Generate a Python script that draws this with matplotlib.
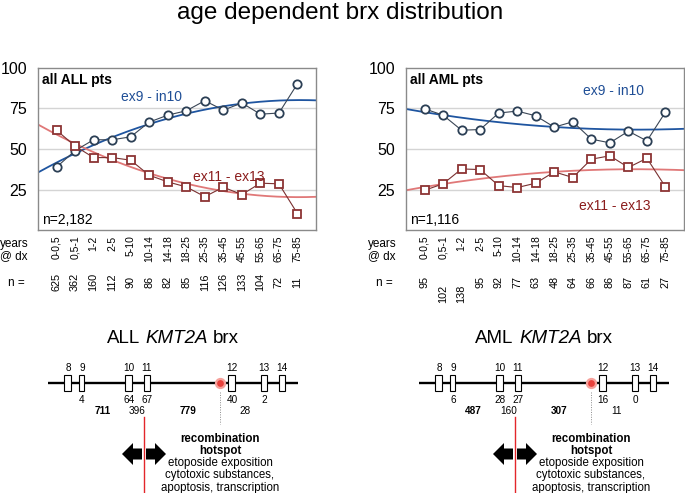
import numpy as np
import matplotlib
matplotlib.use('Agg')
import matplotlib.pyplot as plt
import matplotlib.patches as mpatches
from matplotlib import transforms

plt.rcParams['font.family'] = ['Liberation Sans', 'DejaVu Sans']

# age groups at diagnosis
age_groups = ['0-0,5', '0,5-1', '1-2', '2-5', '5-10', '10-14', '14-18',
              '18-25', '25-35', '35-45', '45-55', '55-65', '65-75', '75-85']

# % of breakpoints per age group
all_ex9_in10 = [38.8, 49.0, 55.7, 55.7, 57.5, 66.6, 70.9, 73.6, 79.8, 74.0, 78.4, 71.5, 72.2, 90.3]
all_ex11_ex13 = [61.6, 51.8, 44.7, 44.7, 43.1, 33.8, 29.7, 26.6, 20.6, 26.4, 21.9, 28.9, 28.5, 10.1]
all_n = [625, 362, 160, 112, 90, 86, 82, 85, 116, 126, 133, 104, 72, 11]

aml_ex9_in10 = [74.8, 70.9, 61.6, 62.0, 72.2, 73.4, 70.5, 63.5, 66.8, 56.1, 53.8, 61.0, 55.0, 72.8]
aml_ex11_ex13 = [24.5, 28.5, 37.7, 37.3, 27.4, 26.2, 28.9, 35.9, 32.4, 43.7, 45.8, 38.6, 44.3, 26.6]
aml_n = [95, 102, 138, 95, 92, 77, 63, 48, 64, 66, 86, 87, 61, 27]

# KMT2A breakpoint cluster region
exon_names = ['8', '9', '10', '11', '12', '13', '14']
all_exon_brx = ['', '4', '64', '67', '40', '2', '']
aml_exon_brx = ['', '6', '28', '27', '16', '0', '']
all_intron_brx = ['711', '396', '779', '28']
aml_intron_brx = ['487', '160', '307', '11']

BLUE_TXT = '#1f4e96'
RED_TXT = '#8b1c1c'

fig = plt.figure(figsize=(6.85, 4.93), dpi=100)

# overlay in pixel units for free text and the gene maps
ov = fig.add_axes([0, 0, 1, 1])
ov.set_xlim(0, 685)
ov.set_ylim(493, 0)
ov.axis('off')

ov.text(340.5, 19, 'age dependent brx distribution', ha='center', va='baseline', fontsize=17.5)


def panel(left_px, ex9, ex11, n, label, n_label, ex9_pos, ex11_pos, n_shift):
    ax = fig.add_axes([left_px / 685, (493 - 230) / 493, 278 / 685, 162 / 493])
    x = np.arange(len(age_groups))
    ax.set_xlim(-1, len(age_groups))
    ax.set_ylim(0, 100)
    ax.set_yticks([25, 50, 75, 100])
    ax.set_yticklabels(['25', '50', '75', '100'], fontsize=11.5)
    ax.set_xticks(x)
    ax.set_xticklabels(age_groups, rotation=90, fontsize=7.5)
    ax.tick_params(length=0)
    ax.tick_params(axis='y', pad=8)
    ax.tick_params(axis='x', pad=4)
    for s in ax.spines.values():
        s.set_color('#8a8a8a')
        s.set_linewidth(1.0)
    for g in [25, 50, 75]:
        ax.axhline(g, color='#d4d4d4', lw=1.0, zorder=0)

    # polynomial trendlines (order 2)
    xs = np.linspace(-1, len(age_groups), 200)
    p9 = np.polyfit(x, ex9, 2)
    p11 = np.polyfit(x, ex11, 2)
    ax.plot(xs, np.polyval(p9, xs), color='#1f55a0', lw=1.3, zorder=2)
    ax.plot(xs, np.polyval(p11, xs), color='#e07878', lw=1.3, zorder=2)

    ax.plot(x, ex9, '-o', color='#3a4656', lw=0.8, ms=6, mfc='white',
            mec='#2b3f55', mew=1.3, zorder=3)
    ax.plot(x, ex11, '-s', color='#7a3030', lw=0.8, ms=5.6, mfc='white',
            mec='#8c3434', mew=1.3, zorder=3)

    ax.text(-0.8, 90.3, label, fontsize=10, fontweight='bold', va='baseline')
    ax.text(-0.8, 3.5, n_label, fontsize=10, va='baseline')
    ax.text(ex9_pos[0], ex9_pos[1], 'ex9 - in10', fontsize=10, color=BLUE_TXT,
            ha='center', va='baseline')
    ax.text(ex11_pos[0], ex11_pos[1], 'ex11 - ex13', fontsize=10, color=RED_TXT,
            ha='center', va='baseline')

    # labels left of the tick rows
    lx = left_px - 24
    ov.text(lx, 247.3, 'years', ha='center', va='baseline', fontsize=8.5)
    ov.text(lx, 259, '@ dx', ha='center', va='baseline', fontsize=8.5)
    ov.text(lx + 2, 283, 'n =', ha='center', va='center', fontsize=8.5)

    trans = transforms.blended_transform_factory(ax.transData, ov.transData)
    for xi, v in zip(x, n):
        yy = 282 + (n_shift if len(str(v)) == 3 else 0)
        ov.text(xi, yy, str(v), transform=trans, rotation=90, ha='center',
                va='center', fontsize=7.8)
    return ax


panel(38, all_ex9_in10, all_ex11_ex13, all_n, 'all ALL pts', 'n=2,182',
      (5.15, 79.5), (9.27, 30.5), 0)
panel(406, aml_ex9_in10, aml_ex11_ex13, aml_n, 'all AML pts', 'n=1,116',
      (10.2, 83.5), (10.27, 12.2), 12)

# gene map geometry (left map, pixels); the right map is shifted
exon_x = [68, 82, 129, 147, 232, 264, 282]
exon_w = [7, 5, 7, 6, 7, 6, 6]
intron_x = [102.5, 137.5, 188.5, 245.5]
intron_bold = [True, False, True, False]


def gene_map(dx, disease, exon_brx, intron_brx):
    r = fig.canvas.get_renderer()
    parts = [(disease, 'normal'), ('KMT2A', 'italic'), ('brx', 'normal')]
    fs = 13.5
    texts = [ov.text(0, 343, s, style=st, fontsize=fs, va='baseline') for s, st in parts]
    gap = fs * 0.278 * 100 / 72
    widths = [t.get_window_extent(r).width for t in texts]
    xpos = 173 + dx - (sum(widths) + 2 * gap) / 2
    for t, w in zip(texts, widths):
        t.set_x(xpos)
        xpos += w + gap

    y0 = 383
    ov.plot([48 + dx, 298 + dx], [y0, y0], color='black', lw=1.7, zorder=2,
            solid_capstyle='butt')
    for name, brx, xc, w in zip(exon_names, exon_brx, exon_x, exon_w):
        ov.add_patch(mpatches.Rectangle((xc + dx - w / 2, 374.5), w, 16.5, facecolor='white',
                                        edgecolor='black', lw=0.8, zorder=3))
        ov.text(xc + dx, 368, name, ha='center', va='center', fontsize=7.2)
        if brx:
            ov.text(xc + dx, 400, brx, ha='center', va='center', fontsize=7.2)
    for val, xc, b in zip(intron_brx, intron_x, intron_bold):
        ov.text(xc + dx, 410.5, val, ha='center', va='center', fontsize=7.2,
                fontweight='bold' if b else 'normal')

    # recombination hotspot
    ov.plot([220 + dx] * 2, [392, 424], color='#8a8a8a', lw=0.7, ls=(0, (1, 1.5)))
    ov.plot(220 + dx, y0, 'o', ms=6.5, mfc='#e8413c', mec='#f6a19b', mew=1.6, zorder=4)

    ov.add_patch(mpatches.FancyArrow(142 + dx, 454, -20, 0, width=11, head_width=22,
                                     head_length=11, length_includes_head=True,
                                     color='black', lw=0))
    ov.add_patch(mpatches.FancyArrow(146 + dx, 454, 20, 0, width=11, head_width=22,
                                     head_length=11, length_includes_head=True,
                                     color='black', lw=0))
    ov.plot([144 + dx] * 2, [417, 493], color='#e3262a', lw=1.0)

    lines = [('recombination', 'bold'), ('hotspot', 'bold'), ('etoposide exposition', 'normal'),
             ('cytotoxic substances,', 'normal'), ('apoptosis, transcription', 'normal')]
    for i, (s, wgt) in enumerate(lines):
        ov.text(220 + dx, 441.5 + 12.3 * i, s, ha='center', va='baseline',
                fontsize=8.3, fontweight=wgt)


gene_map(0, 'ALL', all_exon_brx, all_intron_brx)
gene_map(371, 'AML', aml_exon_brx, aml_intron_brx)

fig.savefig('out.png', dpi=100)
